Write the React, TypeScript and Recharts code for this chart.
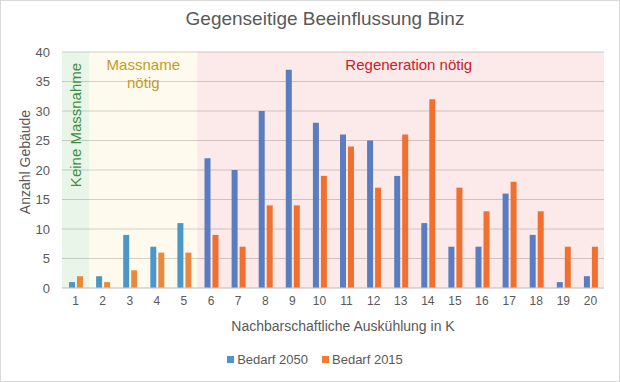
import {
  Bar,
  BarChart,
  CartesianGrid,
  Cell,
  Legend,
  ReferenceArea,
  XAxis,
  YAxis,
} from "recharts";

const categories = ["1", "2", "3", "4", "5", "6", "7", "8", "9", "10", "11", "12", "13", "14", "15", "16", "17", "18", "19", "20"];
const bedarf2050 = [1, 2, 9, 7, 11, 22, 20, 30, 37, 28, 26, 25, 19, 11, 7, 7, 16, 9, 1, 2];
const bedarf2015 = [2, 1, 3, 6, 6, 9, 7, 14, 14, 19, 24, 17, 26, 32, 17, 13, 18, 13, 7, 7];
const seriesNames = ["Bedarf 2050", "Bedarf 2015"];
const yTicks = [0, 5, 10, 15, 20, 25, 30, 35, 40];

const data = categories.map((k, i) => ({
  k,
  b2050: bedarf2050[i],
  b2015: bedarf2015[i],
}));

const FONT = "'Liberation Sans', Arial, sans-serif";
const TEXT = "#595959";
const LEGEND_COLORS = ["#5092d0", "#ee7d31"];

// bars look tinted by the coloured zones behind them
const blueFor = (i: number) => (i < 5 ? "#4b97c9" : "#5a7cc0");
const orangeFor = (i: number) => (i < 5 ? "#e8893f" : "#f16f2f");

type VB = { x?: number; y?: number; width?: number; height?: number };

const GreenLabel = ({ viewBox }: { viewBox?: VB }) => {
  const x = (viewBox?.x ?? 0) + (viewBox?.width ?? 0) / 2;
  const y = (viewBox?.y ?? 0) + 73;
  return (
    <text
      x={x}
      y={y}
      transform={`rotate(-90, ${x}, ${y})`}
      textAnchor="middle"
      dominantBaseline="central"
      fill="#3e8e3e"
      fontSize={15}
      fontFamily={FONT}
    >
      Keine Massnahme
    </text>
  );
};

const YellowLabel = ({ viewBox }: { viewBox?: VB }) => {
  const x = (viewBox?.x ?? 0) + (viewBox?.width ?? 0) / 2;
  const y = (viewBox?.y ?? 0) + 18;
  return (
    <text x={x} y={y} textAnchor="middle" fill="#c39a2a" fontSize={15} fontFamily={FONT}>
      <tspan x={x} dy={0}>Massname</tspan>
      <tspan x={x} dy={18}>nötig</tspan>
    </text>
  );
};

const RedLabel = ({ viewBox }: { viewBox?: VB }) => {
  const x = (viewBox?.x ?? 0) + (viewBox?.width ?? 0) / 2 + 8;
  const y = (viewBox?.y ?? 0) + 18;
  return (
    <text x={x} y={y} textAnchor="middle" fill="#c8202a" fontSize={15} fontFamily={FONT}>
      Regeneration nötig
    </text>
  );
};

const LegendContent = () => (
  <div
    style={{
      display: "flex",
      justifyContent: "center",
      gap: 14,
      fontSize: 13,
      color: TEXT,
      fontFamily: FONT,
      paddingLeft: 16,
    }}
  >
    {seriesNames.map((name, i) => (
      <span key={name} style={{ display: "inline-flex", alignItems: "center", gap: 3 }}>
        <span style={{ width: 7, height: 7, background: LEGEND_COLORS[i], display: "inline-block" }} />
        {name}
      </span>
    ))}
  </div>
);

export default function App() {
  return (
    <div style={{ position: "relative", width: 620, height: 382, background: "#fff", fontFamily: FONT }}>
      <style>{`body{margin:0}`}</style>
      <div
        style={{
          position: "absolute",
          top: 8,
          left: 0,
          width: 650,
          textAlign: "center",
          fontSize: 19,
          color: TEXT,
        }}
      >
        Gegenseitige Beeinflussung Binz
      </div>
      <BarChart
        width={620}
        height={382}
        data={data}
        margin={{ top: 52, right: 16, bottom: 10, left: 10 }}
        barSize={6}
        barGap={2}
      >
        <ReferenceArea x1="1" x2="1" y1={0} y2={40} fill="rgba(120,190,120,0.3)" stroke="none" label={<GreenLabel />} />
        <ReferenceArea x1="2" x2="5" y1={0} y2={40} fill="rgba(245,215,120,0.25)" stroke="none" label={<YellowLabel />} />
        <ReferenceArea x1="6" x2="20" y1={0} y2={40} fill="rgba(235,90,90,0.25)" stroke="none" label={<RedLabel />} />
        <CartesianGrid vertical={false} stroke="#cfcfcf" />
        <XAxis
          dataKey="k"
          height={64}
          tickLine={false}
          axisLine={{ stroke: "#cfcfcf" }}
          tick={{ fontSize: 12, fill: TEXT, fontFamily: FONT }}
          interval={0}
          label={{
            value: "Nachbarschaftliche Auskühlung in K",
            position: "insideBottom",
            offset: 21,
            dx: 10,
            fill: TEXT,
            fontSize: 14,
            fontFamily: FONT,
          }}
        />
        <YAxis
          width={52}
          domain={[0, 40]}
          ticks={yTicks}
          tickLine={false}
          axisLine={false}
          tickMargin={6}
          tick={{ fontSize: 13, fill: TEXT, fontFamily: FONT }}
          label={{
            value: "Anzahl Gebäude",
            angle: -90,
            position: "insideLeft",
            offset: 15,
            dy: -8,
            fill: TEXT,
            fontSize: 14,
            fontFamily: FONT,
            style: { textAnchor: "middle" },
          }}
        />
        <Legend verticalAlign="bottom" align="center" height={20} content={<LegendContent />} />
        <Bar dataKey="b2050" name={seriesNames[0]} fill={LEGEND_COLORS[0]} isAnimationActive={false}>
          {data.map((d, i) => (
            <Cell key={`b50-${d.k}`} fill={blueFor(i)} />
          ))}
        </Bar>
        <Bar dataKey="b2015" name={seriesNames[1]} fill={LEGEND_COLORS[1]} isAnimationActive={false}>
          {data.map((d, i) => (
            <Cell key={`b15-${d.k}`} fill={orangeFor(i)} />
          ))}
        </Bar>
      </BarChart>
      <div
        style={{
          position: "absolute",
          inset: 0,
          border: "1px solid #d9d9d9",
          pointerEvents: "none",
        }}
      />
    </div>
  );
}
